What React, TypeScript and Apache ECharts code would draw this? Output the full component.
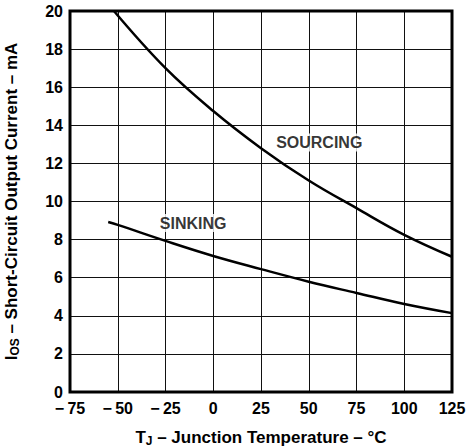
import React, { useEffect, useRef } from "react";
import * as echarts from "echarts";

const sourcingT = [-52, -25, 0, 25, 50, 75, 100, 125];
const sourcingI = [20, 17.0, 14.75, 12.8, 11.1, 9.65, 8.25, 7.1];
const sinkingT = [-55, -50, -25, 0, 25, 50, 75, 100, 125];
const sinkingI = [8.92, 8.77, 7.93, 7.14, 6.45, 5.79, 5.2, 4.62, 4.14];
const curveLabels = [
  { name: "SOURCING", t: 55.5, i: 13.1 },
  { name: "SINKING", t: -10.5, i: 8.87 },
];

const FONT = "'Liberation Sans', Arial, Helvetica, sans-serif";

export default function App() {
  const ref = useRef<HTMLDivElement>(null);
  useEffect(() => {
    if (!ref.current) return;
    const chart = echarts.init(ref.current, null, { renderer: "svg" });
    const pair = (xs: number[], ys: number[]) => xs.map((x, k) => [x, ys[k]]);
    chart.setOption({
      animation: false,
      backgroundColor: "#fff",
      textStyle: { fontFamily: FONT },
      grid: {
        left: 70,
        right: 22,
        top: 11,
        bottom: 55,
        outerBoundsMode: "none",
        containLabel: false,
        show: true,
        borderColor: "#000",
        borderWidth: 3,
        backgroundColor: "transparent",
        z: 10,
      },
      xAxis: {
        type: "value",
        min: -75,
        max: 125,
        interval: 25,
        axisLine: { show: false },
        axisTick: { show: false },
        splitLine: { show: true, lineStyle: { color: "#111", width: 1 } },
        axisLabel: {
          margin: 8,
          color: "#000",
          fontWeight: "bold",
          fontSize: 16,
          fontFamily: FONT,
          formatter: (v: number) => (v < 0 ? "\u2212\u2009" + Math.abs(v) : String(v)),
        },
        name: "{a|T}{s|J}{a| \u2013 Junction Temperature \u2013 \u00b0C}",
        nameLocation: "middle",
        nameGap: 36,
        nameTextStyle: {
          rich: {
            a: { fontSize: 17, fontWeight: "bold", color: "#000", fontFamily: FONT },
            s: { fontSize: 12, fontWeight: "bold", color: "#000", fontFamily: FONT, padding: [7, 0, 0, 0] },
          },
        },
      },
      yAxis: {
        type: "value",
        min: 0,
        max: 20,
        interval: 2,
        axisLine: { show: false },
        axisTick: { show: false },
        splitLine: { show: true, lineStyle: { color: "#111", width: 1 } },
        axisLabel: {
          margin: 7,
          color: "#000",
          fontWeight: "bold",
          fontSize: 16,
          fontFamily: FONT,
        },
        name: "{a|I}{s|OS}{a| \u2013 Short-Circuit Output Current \u2013 mA}",
        nameLocation: "middle",
        nameGap: 49,
        nameTextStyle: {
          rich: {
            a: { fontSize: 17, fontWeight: "bold", color: "#000", fontFamily: FONT },
            s: { fontSize: 12, fontWeight: "bold", color: "#000", fontFamily: FONT, padding: [7, 0, 0, 0] },
          },
        },
      },
      series: [
        {
          type: "line",
          name: "SOURCING",
          data: pair(sourcingT, sourcingI),
          smooth: 0.4,
          symbol: "none",
          lineStyle: { color: "#000", width: 2.5 },
          z: 5,
        },
        {
          type: "line",
          name: "SINKING",
          data: pair(sinkingT, sinkingI),
          smooth: 0.4,
          symbol: "none",
          lineStyle: { color: "#000", width: 2.5 },
          z: 5,
        },
        {
          type: "scatter",
          symbolSize: 0,
          data: curveLabels.map((c) => ({ value: [c.t, c.i], name: c.name })),
          label: {
            show: true,
            position: "inside",
            formatter: (p: any) => p.name,
            color: "#000",
            fontWeight: "bold",
            fontSize: 16,
            fontFamily: FONT,
            backgroundColor: "#fff",
            padding: [1, 2],
          },
          silent: true,
          z: 6,
        },
      ],
    });
    return () => chart.dispose();
  }, []);
  return (
    <div
      ref={ref}
      style={{ position: "fixed", left: 0, top: 0, width: 474, height: 447 }}
    />
  );
}
